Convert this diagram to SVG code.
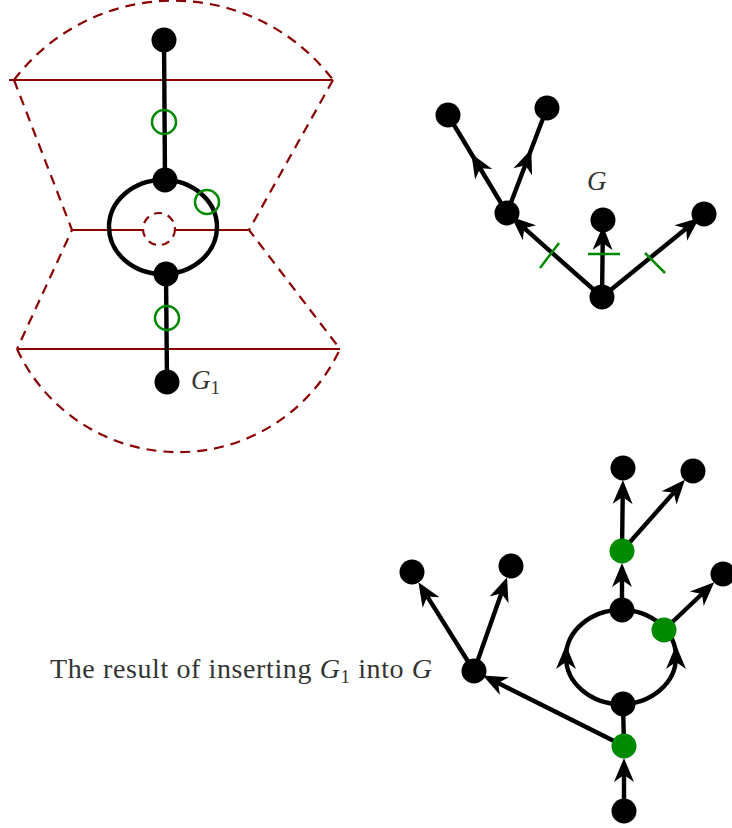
<svg xmlns="http://www.w3.org/2000/svg" width="732" height="828" viewBox="0 0 732 828">
<defs>
<style>
.red{fill:none;stroke:#8b0000;stroke-width:2.2}
.dash{fill:none;stroke:#8b0000;stroke-width:2.2;stroke-dasharray:10 7}
.dash2{fill:none;stroke:#8b0000;stroke-width:2.2;stroke-dasharray:8 6}
.edge{fill:none;stroke:#000;stroke-width:4.4}
.ring{fill:none;stroke:#008a00;stroke-width:2.5}
.tick{fill:none;stroke:#008a00;stroke-width:2.5}
.nb{fill:#000}
.ng{fill:#008a00}
.lbl{font-family:"Liberation Serif","Times New Roman",serif;font-size:27px;fill:#333}
.cap{font-size:28px}
.it{font-style:italic}
.arr{marker-end:url(#ah)}
.mid{marker-mid:url(#am)}
</style>
<marker id="ah" markerUnits="userSpaceOnUse" viewBox="-10 -12 30 24" refX="0" refY="0" markerWidth="30" markerHeight="24" orient="auto" overflow="visible"><path d="M17,0 L-7,-10 L0,0 L-7,10 Z" fill="#000"/></marker>
<marker id="am" markerUnits="userSpaceOnUse" viewBox="-14 -12 28 24" refX="0" refY="0" markerWidth="28" markerHeight="24" orient="auto" overflow="visible"><path d="M12,0 L-12,-10 L-5,0 L-12,10 Z" fill="#000"/></marker>
</defs>

<!-- G1 region outlines -->
<g id="region">
<path class="dash" d="M14,80 A200,200 0 0 1 333,80"/>
<path class="dash" d="M14,80 L72,230 L17,349"/>
<path class="dash" d="M333,80 L249,230 L340,349"/>
<path class="dash" d="M17,349 A178,178 0 0 0 340,349"/>
<line class="red" x1="9" y1="80" x2="333" y2="80"/>
<line class="red" x1="72" y1="230" x2="143" y2="230"/>
<line class="red" x1="174" y1="230" x2="248" y2="230"/>
<line class="red" x1="17" y1="349" x2="340" y2="349"/>
<circle class="dash2" cx="159" cy="229" r="16"/>
</g>

<g id="connectors">
<!-- G1 -->
<line class="edge" x1="164" y1="40" x2="165" y2="180"/>
<ellipse class="edge" cx="163" cy="227" rx="54" ry="47"/>
<line class="edge" x1="166" y1="274" x2="167" y2="382"/>
<!-- G -->
<line class="edge arr" x1="602" y1="297" x2="524.2" y2="228.2"/>
<line class="edge arr" x1="602" y1="297" x2="602.7" y2="243"/>
<line class="edge arr" x1="602" y1="297" x2="686.2" y2="228.5"/>
<path class="edge mid" d="M507,213 L477.5,164 L448,115"/>
<path class="edge mid" d="M507,213 L527,160.5 L547,108"/>
<line class="tick" x1="540" y1="268" x2="559" y2="243"/>
<line class="tick" x1="588" y1="254" x2="620" y2="254"/>
<line class="tick" x1="645" y1="253" x2="665" y2="273"/>
<!-- result -->
<line class="edge arr" x1="622" y1="551" x2="622.7" y2="497"/>
<line class="edge arr" x1="622" y1="551" x2="673.7" y2="492.6"/>
<line class="edge arr" x1="622" y1="610" x2="622" y2="580"/>
<line class="edge arr" x1="664" y1="630" x2="701.9" y2="594"/>
<line class="edge arr" x1="474" y1="671" x2="427.4" y2="596.6"/>
<line class="edge arr" x1="474" y1="671" x2="501.4" y2="593.3"/>
<line class="edge arr" x1="624" y1="746" x2="498.1" y2="683"/>
<line class="edge arr" x1="624" y1="811" x2="624" y2="775"/>
<line class="edge" x1="624" y1="746" x2="623" y2="704"/>
<path class="edge mid" d="M621,704 A55,47 0 0 1 566,657 A55,47 0 0 1 621,610"/>
<path class="edge mid" d="M621,704 A55,47 0 0 0 676,657 A55,47 0 0 0 621,610"/>
</g>

<!-- G1 nodes -->
<g id="g1-n1"><circle class="nb" cx="164" cy="40" r="12.5"/></g>
<g id="g1-n2"><circle class="nb" cx="165" cy="180" r="12.5"/></g>
<g id="g1-n3"><circle class="nb" cx="166" cy="274" r="12.5"/></g>
<g id="g1-n4"><circle class="nb" cx="167" cy="382" r="12.5"/></g>
<g id="g1-c1"><circle class="ring" cx="164" cy="122" r="12"/></g>
<g id="g1-c2"><circle class="ring" cx="207" cy="202" r="12"/></g>
<g id="g1-c3"><circle class="ring" cx="167" cy="318" r="12"/></g>
<g id="g1-label"><text class="lbl" x="191" y="389"><tspan class="it">G</tspan><tspan font-size="19" dy="5">1</tspan></text></g>

<!-- G nodes -->
<g id="g-r"><circle class="nb" cx="602" cy="297" r="12.5"/></g>
<g id="g-a"><circle class="nb" cx="507" cy="213" r="12.5"/></g>
<g id="g-b"><circle class="nb" cx="603" cy="220" r="12.5"/></g>
<g id="g-c"><circle class="nb" cx="704" cy="214" r="12.5"/></g>
<g id="g-d"><circle class="nb" cx="448" cy="115" r="12.5"/></g>
<g id="g-e"><circle class="nb" cx="547" cy="108" r="12.5"/></g>
<g id="g-label"><text class="lbl it" x="587" y="190">G</text></g>

<!-- result nodes -->
<g id="r-n1"><circle class="nb" cx="623" cy="468" r="12.5"/></g>
<g id="r-n2"><circle class="nb" cx="693" cy="471" r="12.5"/></g>
<g id="r-n3"><circle class="ng" cx="622" cy="551" r="12.5"/></g>
<g id="r-n4"><circle class="nb" cx="412" cy="572" r="12.5"/></g>
<g id="r-n5"><circle class="nb" cx="511" cy="566" r="12.5"/></g>
<g id="r-n6"><circle class="nb" cx="723" cy="574" r="12.5"/></g>
<g id="r-n7"><circle class="nb" cx="622" cy="610" r="12.5"/></g>
<g id="r-n8"><circle class="ng" cx="664" cy="630" r="12.5"/></g>
<g id="r-n9"><circle class="nb" cx="474" cy="671" r="12.5"/></g>
<g id="r-n10"><circle class="nb" cx="623" cy="704" r="12.5"/></g>
<g id="r-n11"><circle class="ng" cx="624" cy="746" r="12.5"/></g>
<g id="r-n12"><circle class="nb" cx="624" cy="811" r="12.5"/></g>

<g id="caption"><text class="lbl cap" x="50" y="678" textLength="382" lengthAdjust="spacing">The result of inserting <tspan class="it">G</tspan><tspan font-size="19" dy="5">1</tspan><tspan dy="-5"> into </tspan><tspan class="it">G</tspan></text></g>
</svg>
